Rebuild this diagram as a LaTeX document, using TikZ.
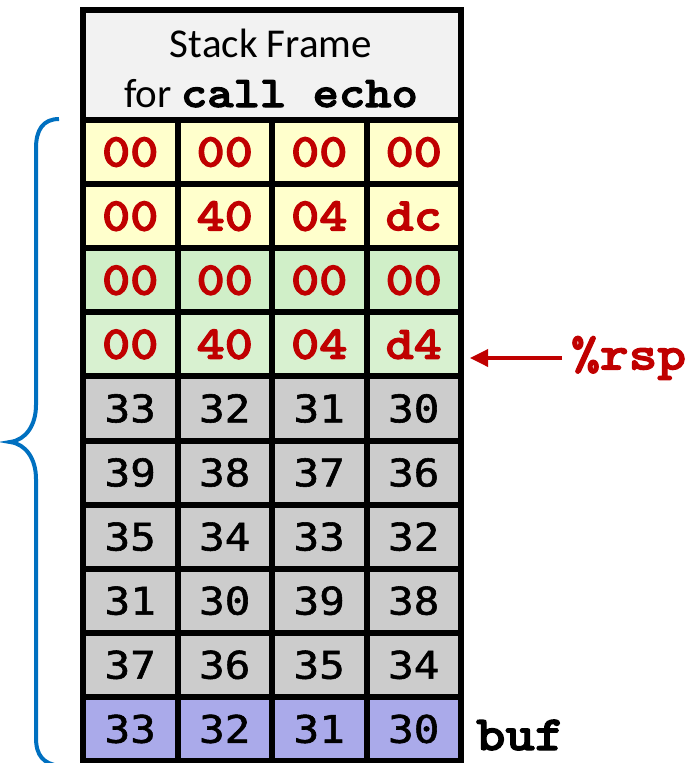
\documentclass[tikz,border=0pt]{standalone}
\usepackage{fontspec}
\setmainfont{Carlito}
\newfontfamily\cmono{lmmonolt10-bold}[Extension=.otf, FakeStretch=1.14, FakeBold=2.5]
\newfontfamily\gmono{DejaVu Sans Mono}[FakeStretch=1.12, FakeBold=1.5]
\usetikzlibrary{arrows.meta}
\definecolor{hdr}{HTML}{F2F2F2}
\definecolor{yel}{HTML}{FFFFCC}
\definecolor{grnA}{HTML}{D0EFC8}
\definecolor{grnB}{HTML}{D8F1D0}
\definecolor{gry}{HTML}{CCCCCC}
\definecolor{pur}{HTML}{AAAAEA}
\definecolor{dred}{HTML}{C00000}
\definecolor{bblue}{HTML}{0070C0}
\tikzset{
  cellbox/.style={draw=black, line width=6pt, minimum width=94.5pt, minimum height=64.1pt, inner sep=0pt, anchor=center},
  redtxt/.style={text=dred, font=\cmono\fontsize{47}{47}\selectfont},
  graytxt/.style={text=black, font=\gmono\fontsize{38}{38}\selectfont},
}
\begin{document}
\begin{tikzpicture}[x=1pt,y=-1pt]
\useasboundingbox (0,0) rectangle (691,763);
% header
\node[draw=black, line width=6pt, fill=hdr, minimum width=378pt, minimum height=110.5pt, inner sep=0pt] (hdr) at (272,64.75) {};
\node[font=\fontsize{41}{41}\selectfont, anchor=base] (t1) at (271,57) {Stack Frame};
\node[font=\fontsize{41}{41}\selectfont, anchor=base] (t2) at (271,107) {for {\cmono\fontsize{44}{44}\selectfont call echo}};
% rows
\foreach \r/\fc/\ts/\a/\b/\c/\d in {
  1/yel/redtxt/00/00/00/00,
  2/yel/redtxt/00/40/04/dc,
  3/grnA/redtxt/00/00/00/00,
  4/grnB/redtxt/00/40/04/d4,
  5/gry/graytxt/33/32/31/30,
  6/gry/graytxt/39/38/37/36,
  7/gry/graytxt/35/34/33/32,
  8/gry/graytxt/31/30/39/38,
  9/gry/graytxt/37/36/35/34,
  10/pur/graytxt/33/32/31/30} {
  \pgfmathsetmacro\yy{120+64.1*(\r-0.5)}
  \node[cellbox, fill=\fc, \ts] (c\r-1) at (130.25,\yy) {\a};
  \node[cellbox, fill=\fc, \ts] (c\r-2) at (224.75,\yy) {\b};
  \node[cellbox, fill=\fc, \ts] (c\r-3) at (319.25,\yy) {\c};
  \node[cellbox, fill=\fc, \ts] (c\r-4) at (413.75,\yy) {\d};
}
% rsp pointer
\node[anchor=west, inner xsep=9pt, inner ysep=0pt, text=dred, font=\cmono\fontsize{48}{48}\selectfont] (rsp) at (562,358) {\%rsp};
\draw[dred, line width=3.5pt, -{Triangle[length=18pt,width=17pt]}, shorten >=6pt] (rsp.west) -- (rsp.west -| c4-4.east);
% buf label
\node[anchor=base west, inner sep=0pt, font=\cmono\fontsize{49}{49}\selectfont] (buf) at (476,750) {buf};
% brace
\draw[bblue, line width=4pt] (59,119) .. controls (43,119) and (36,130) .. (36,148) -- (36,405)
  .. controls (36,425) and (26,440) .. (10,442)
  .. controls (26,444) and (36,459) .. (36,479) -- (36,738)
  .. controls (36,755) and (43,764) .. (60,766);
\end{tikzpicture}
\end{document}
